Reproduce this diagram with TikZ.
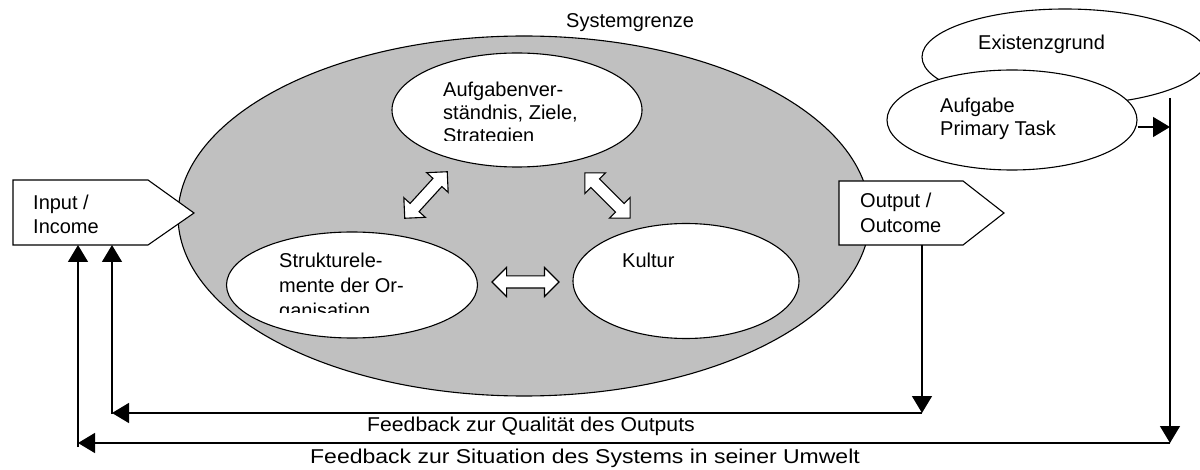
\documentclass[tikz,border=0pt]{standalone}
\usepackage{fontspec}
\setmainfont{Liberation Sans}
\usetikzlibrary{shapes.geometric,shapes.arrows,arrows.meta}
\definecolor{sysgray}{HTML}{C0C0C0}
\begin{document}
\begin{tikzpicture}[x=1pt,y=-1pt,
  lbl/.style={inner sep=0pt, anchor=base west, font=\fontsize{20}{23}\selectfont},
  ell/.style={draw, ellipse, line width=1.1pt, fill=white, inner sep=0pt},
  conn/.style={line width=1.4pt, -{Triangle[length=17pt,width=20pt]}},
  dbl/.style={draw, double arrow, line width=1.1pt, fill=white, inner xsep=0pt,
    inner ysep=5.5pt, double arrow head extend=8.5pt, double arrow tip angle=90}
]
\useasboundingbox (0,0) rectangle (1200,470);

% system boundary
\node[ell, fill=sysgray, minimum width=692pt, minimum height=360pt] (sys) at (524,216) {};
\node[lbl] (sysl) at (566,28) {Systemgrenze};

% inner ellipses
\node[ell, minimum width=250pt, minimum height=114pt] (aufg) at (517,110) {};
\node[ell, minimum width=251pt, minimum height=106pt] (strk) at (352,285) {};
\node[ell, minimum width=226pt, minimum height=115pt] (kult) at (686,281) {};

\node[lbl] (aufg1) at (443,97) {Aufgabenver-};
\node[lbl] (aufg2) at (443,120) {ständnis, Ziele,};
\begin{scope}
  \clip (400,125) rectangle (640,141);
  \node[lbl] (aufg3) at (443,143) {Strategien};
\end{scope}

\node[lbl] (strk1) at (279,268) {Strukturele-};
\node[lbl] (strk2) at (279,293) {mente der Or-};
\begin{scope}
  \clip (240,298) rectangle (470,313);
  \node[lbl] (strk3) at (279,318) {ganisation};
\end{scope}

\node[lbl] (kult1) at (622,268) {Kultur};

% double arrows
\node[dbl, minimum height=67pt] (h1) at (525.5,282) {};
\node[dbl, minimum height=63pt, rotate=47.6] (d1) at (426,195) {};
\node[dbl, minimum height=64pt, rotate=-45] (d2) at (607.5,195.5) {};

% Existenzgrund / Aufgabe
\node[ell, minimum width=286pt, minimum height=96pt] (exist) at (1065,57) {};
\node[lbl] (existl) at (978,50) {Existenzgrund};
\node[ell, minimum width=250pt, minimum height=100pt] (task) at (1012,120) {};
\node[lbl] (task1) at (940,113) {Aufgabe};
\node[lbl] (task2) at (940,136) {Primary Task};

% input / output boxes
\draw[line width=1.1pt, fill=white] (13,180) -- (148,180) -- (194,213) -- (148,245) -- (13,245) -- cycle;
\node[lbl] (in1) at (33,210) {Input /};
\node[lbl] (in2) at (33,234) {Income};
\draw[line width=1.1pt, fill=white] (839,181) -- (963,181) -- (1004,213) -- (963,245) -- (839,245) -- cycle;
\node[lbl] (out1) at (860,208) {Output /};
\begin{scope}
  \clip (845,212) rectangle (960,235);
  \node[lbl] (out2) at (860,233) {Outcome};
\end{scope}

% connector coordinates
\coordinate (inA) at (78,245);
\coordinate (inB) at (112,245);
\coordinate (outB) at (922,245);
\coordinate (fbq) at (922,413);
\coordinate (fbqL) at (112,413);
\coordinate (fbqLs) at (112,414);
\coordinate (vtop) at (1170,98);
\coordinate (vhit) at (1170,127);
\coordinate (vbot) at (1170,443);
\coordinate (fbsL) at (78,443);
\coordinate (fbsLs) at (78,447);

% feedback loops
\draw[conn] ([yshift=-7pt]task.east) -- (vhit);
\draw[conn] (vtop) -- (vbot);
\draw[conn] (vbot) -- (fbsL);
\draw[conn] (fbsLs) -- (inA);

\draw[conn] (outB) -- (fbq);
\draw[conn] (fbq) -- (fbqL);
\draw[conn] (fbqLs) -- (inB);

\node[font=\fontsize{20}{23}\selectfont, inner sep=0pt, anchor=base] (fbql) at (531,431) {\scalebox{1.06}[1]{Feedback zur Qualität des Outputs}};
\node[font=\fontsize{20}{23}\selectfont, inner sep=0pt, anchor=base] (fbsl) at (585,463) {\scalebox{1.15}[1]{Feedback zur Situation des Systems in seiner Umwelt}};
\end{tikzpicture}
\end{document}
